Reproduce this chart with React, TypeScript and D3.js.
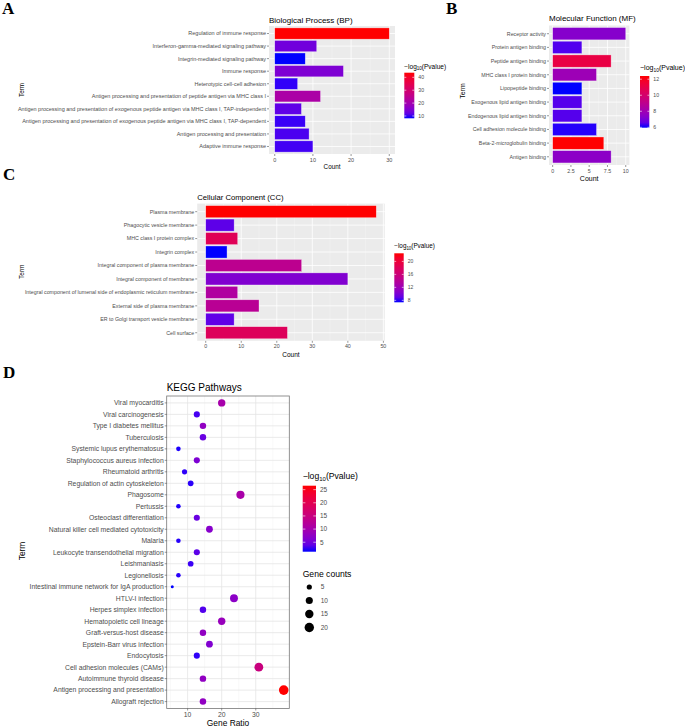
import React from "react";
import * as d3 from "d3";

const SANS = "'Liberation Sans', Arial, Helvetica, sans-serif";
const SERIF = "'Liberation Serif', 'Times New Roman', serif";

// A - Biological Process (top to bottom as drawn)
const bpTerms = [
  "Regulation of immune response",
  "Interferon-gamma-mediated signaling pathway",
  "Integrin-mediated signaling pathway",
  "Immune response",
  "Heterotypic cell-cell adhesion",
  "Antigen processing and presentation of peptide antigen via MHC class I",
  "Antigen processing and presentation of exogenous peptide antigen via MHC class I, TAP-independent",
  "Antigen processing and presentation of exogenous peptide antigen via MHC class I, TAP-dependent",
  "Antigen processing and presentation",
  "Adaptive immune response",
];
const bpCounts = [30, 11, 8, 18, 6, 12, 7, 8, 9, 10];
const bpLogP = [43.6, 13.2, 8.2, 14.6, 9.1, 21.3, 11.7, 9.4, 10.3, 9.8];
const bpTicks = [0, 10, 20, 30];
const bpColorTicks = [10, 20, 30, 40];

// B - Molecular Function
const mfTerms = [
  "Receptor activity",
  "Protein antigen binding",
  "Peptide antigen binding",
  "MHC class I protein binding",
  "Lipopeptide binding",
  "Exogenous lipid antigen binding",
  "Endogenous lipid antigen binding",
  "Cell adhesion molecule binding",
  "Beta-2-microglobulin binding",
  "Antigen binding",
];
const mfCounts = [10, 4, 8, 6, 4, 4, 4, 6, 7, 8];
const mfLogP = [7.3, 6.4, 11.1, 7.9, 5.95, 6.45, 6.45, 6.05, 12.4, 7.45];
const mfTicks = [0, 2.5, 5, 7.5, 10];
const mfColorTicks = [6, 8, 10, 12];

// C - Cellular Component
const ccTerms = [
  "Plasma membrane",
  "Phagocytic vesicle membrane",
  "MHC class I protein complex",
  "Integrin complex",
  "Integral component of plasma membrane",
  "Integral component of membrane",
  "Integral component of lumenal side of endoplasmic reticulum membrane",
  "External side of plasma membrane",
  "ER to Golgi transport vesicle membrane",
  "Cell surface",
];
const ccCounts = [48, 8, 9, 6, 27, 40, 9, 15, 8, 23];
const ccLogP = [22.5, 8.8, 18.3, 7.4, 14.5, 10.3, 13.4, 14.2, 8.9, 18.0];
const ccTicks = [0, 10, 20, 30, 40, 50];
const ccColorTicks = [8, 12, 16, 20];

// D - KEGG pathways
const keggTerms = [
  "Viral myocarditis",
  "Viral carcinogenesis",
  "Type I diabetes mellitus",
  "Tuberculosis",
  "Systemic lupus erythematosus",
  "Staphylococcus aureus infection",
  "Rheumatoid arthritis",
  "Regulation of actin cytoskeleton",
  "Phagosome",
  "Pertussis",
  "Osteoclast differentiation",
  "Natural killer cell mediated cytotoxicity",
  "Malaria",
  "Leukocyte transendothelial migration",
  "Leishmaniasis",
  "Legionellosis",
  "Intestinal immune network for IgA production",
  "HTLV-I infection",
  "Herpes simplex infection",
  "Hematopoietic cell lineage",
  "Graft-versus-host disease",
  "Epstein-Barr virus infection",
  "Endocytosis",
  "Cell adhesion molecules (CAMs)",
  "Autoimmune thyroid disease",
  "Antigen processing and presentation",
  "Allograft rejection",
];
const keggRatio = [20.0, 12.7, 14.5, 14.5, 7.3, 12.7, 9.1, 10.9, 25.5, 7.3, 12.7, 16.4, 7.3, 12.7, 10.9, 7.3, 5.5, 23.6, 14.5, 20.0, 14.5, 16.4, 12.7, 30.9, 14.5, 38.2, 14.5];
const keggCounts = [11, 7, 8, 8, 4, 7, 5, 6, 14, 4, 7, 9, 4, 7, 6, 4, 3, 13, 8, 11, 8, 9, 7, 17, 8, 21, 8];
const keggLogP = [10.2, 2.7, 7.7, 4.4, 1.65, 5.9, 2.0, 1.9, 10.4, 1.7, 4.4, 6.7, 1.8, 3.7, 2.3, 1.85, 1.4, 7.2, 3.2, 8.4, 7.7, 6.2, 2.0, 15.2, 7.7, 26.5, 7.7];
const keggTicks = [10, 20, 30];
const keggMinor = [5, 15, 25, 35];
const keggColorTicks = [5, 10, 15, 20, 25];
const keggSizeBreaks = [5, 10, 15, 20];

const colorScale = (vals: number[]) =>
  d3.scaleLinear<string>()
    .domain(d3.extent(vals) as [number, number])
    .range(["#0000FF", "#FF0000"])
    .interpolate(d3.interpolateLab);

function LogTitle({ x, y, size }: { x: number; y: number; size: number }) {
  return (
    <text x={x} y={y} fontSize={size} fill="#000" fontFamily={SANS}>
      <tspan>−log</tspan>
      <tspan fontSize={size * 0.7} dy={size * 0.25}>10</tspan>
      <tspan dy={-size * 0.25}>(Pvalue)</tspan>
    </text>
  );
}

function ColorBar(props: {
  id: string; vals: number[]; ticks: number[];
  x: number; y: number; w: number; h: number; size: number; titleY: number; titleSize: number;
}) {
  const { id, vals, ticks, x, y, w, h, size, titleY, titleSize } = props;
  const col = colorScale(vals);
  const ext = d3.extent(vals) as [number, number];
  const yb = d3.scaleLinear().domain(ext).range([y + h, y]);
  const stops = d3.range(0, 1.0001, 0.1);
  return (
    <g>
      <defs>
        <linearGradient id={id} x1="0" y1="1" x2="0" y2="0">
          {stops.map((t) => (
            <stop key={t} offset={t} stopColor={col(ext[0] + t * (ext[1] - ext[0]))} />
          ))}
        </linearGradient>
      </defs>
      <LogTitle x={x} y={titleY} size={titleSize} />
      <rect x={x} y={y} width={w} height={h} fill={`url(#${id})`} />
      {ticks.map((t) => (
        <g key={t}>
          <line x1={x} x2={x + w * 0.2} y1={yb(t)} y2={yb(t)} stroke="#fff" strokeWidth={0.6} />
          <line x1={x + w * 0.8} x2={x + w} y1={yb(t)} y2={yb(t)} stroke="#fff" strokeWidth={0.6} />
          <text x={x + w + 4} y={yb(t)} dy="0.35em" fontSize={size} fill="#4d4d4d" fontFamily={SANS}>{t}</text>
        </g>
      ))}
    </g>
  );
}

function BarPanel(props: {
  id: string; title: string; terms: string[]; counts: number[]; logp: number[];
  ticks: number[]; colorTicks: number[]; xMax: number;
  x0: number; x1: number; y0: number; y1: number;
  labelSize: number; titleSize: number; axisTitleSize: number;
  titleY: number; tickY: number; countY: number; termX: number; termY: number;
  leg: { x: number; y: number; w: number; h: number; titleY: number; titleSize: number; size: number };
}) {
  const p = props;
  const pad = p.xMax * 0.05;
  const x = d3.scaleLinear().domain([-pad, p.xMax + pad]).range([p.x0, p.x1]);
  const y = d3.scaleBand().domain(p.terms).range([p.y0, p.y1]).paddingInner(0.1).paddingOuter(0.15);
  const col = colorScale(p.logp);
  const minors = p.ticks.slice(1).map((t, i) => (t + p.ticks[i]) / 2);
  return (
    <g fontFamily={SANS}>
      <text x={p.x0} y={p.titleY} fontSize={p.titleSize} fill="#000">{p.title}</text>
      <rect x={p.x0} y={p.y0} width={p.x1 - p.x0} height={p.y1 - p.y0} fill="#EBEBEB" />
      {minors.map((t) => (
        <line key={"m" + t} x1={x(t)} x2={x(t)} y1={p.y0} y2={p.y1} stroke="#fff" strokeWidth={0.4} opacity={0.7} />
      ))}
      {p.ticks.map((t) => (
        <line key={"g" + t} x1={x(t)} x2={x(t)} y1={p.y0} y2={p.y1} stroke="#fff" strokeWidth={0.8} />
      ))}
      {p.terms.map((t) => (
        <line key={"h" + t} x1={p.x0} x2={p.x1} y1={y(t)! + y.bandwidth() / 2} y2={y(t)! + y.bandwidth() / 2} stroke="#fff" strokeWidth={0.8} />
      ))}
      {p.terms.map((t, i) => (
        <rect key={"b" + t} x={x(0)} y={y(t)!} width={x(p.counts[i]) - x(0)} height={y.bandwidth()}
          fill={col(p.logp[i])} stroke="#ffffff" strokeOpacity={0.55} strokeWidth={0.6} />
      ))}
      {p.terms.map((t) => (
        <g key={"l" + t}>
          <line x1={p.x0 - 2} x2={p.x0} y1={y(t)! + y.bandwidth() / 2} y2={y(t)! + y.bandwidth() / 2} stroke="#333" strokeWidth={0.5} />
          <text x={p.x0 - 3} y={y(t)! + y.bandwidth() / 2} dy="0.35em" textAnchor="end" fontSize={p.labelSize} fill="#4d4d4d">{t}</text>
        </g>
      ))}
      {p.ticks.map((t) => (
        <g key={"t" + t}>
          <line x1={x(t)} x2={x(t)} y1={p.y1} y2={p.y1 + 2} stroke="#333" strokeWidth={0.5} />
          <text x={x(t)} y={p.tickY} textAnchor="middle" fontSize={p.labelSize} fill="#4d4d4d">{t}</text>
        </g>
      ))}
      <text x={(p.x0 + p.x1) / 2} y={p.countY} textAnchor="middle" fontSize={p.axisTitleSize} fill="#000">Count</text>
      <text transform={`translate(${p.termX},${p.termY}) rotate(-90)`} textAnchor="middle" dy="0.35em" fontSize={p.axisTitleSize} fill="#000">Term</text>
      <ColorBar id={p.id} vals={p.logp} ticks={p.colorTicks} x={p.leg.x} y={p.leg.y} w={p.leg.w} h={p.leg.h}
        size={p.leg.size} titleY={p.leg.titleY} titleSize={p.leg.titleSize} />
    </g>
  );
}

function KeggPanel() {
  const x0 = 166.7, x1 = 289.3, y0 = 396, y1 = 708.5;
  const ext = d3.extent(keggRatio) as [number, number];
  const pad = (ext[1] - ext[0]) * 0.05;
  const x = d3.scaleLinear().domain([ext[0] - pad, ext[1] + pad]).range([x0, x1]);
  const y = d3.scalePoint().domain(keggTerms).range([y0, y1]).padding(0.6);
  const col = colorScale(keggLogP);
  const cExt = d3.extent(keggCounts) as [number, number];
  const norm = d3.scaleLinear().domain(cExt).range([0, 1]);
  const rad = d3.scaleLinear().domain([0, 1]).range([1.5, 4.8]);
  const r = (v: number) => rad(Math.sqrt(Math.max(0, norm(v))));
  return (
    <g fontFamily={SANS}>
      <text x={x0} y={391} fontSize={10} fill="#000">KEGG Pathways</text>
      <rect x={x0} y={y0} width={x1 - x0} height={y1 - y0} fill="#fff" />
      {keggMinor.map((t) => (
        <line key={"m" + t} x1={x(t)} x2={x(t)} y1={y0} y2={y1} stroke="#F2F2F2" strokeWidth={0.5} />
      ))}
      {keggTicks.map((t) => (
        <line key={"g" + t} x1={x(t)} x2={x(t)} y1={y0} y2={y1} stroke="#E5E5E5" strokeWidth={0.8} />
      ))}
      {keggTerms.map((t) => (
        <line key={"h" + t} x1={x0} x2={x1} y1={y(t)!} y2={y(t)!} stroke="#E5E5E5" strokeWidth={0.8} />
      ))}
      {keggTerms.map((t, i) => (
        <circle key={"c" + t} cx={x(keggRatio[i])} cy={y(t)!} r={r(keggCounts[i])} fill={col(keggLogP[i])} />
      ))}
      <rect x={x0} y={y0} width={x1 - x0} height={y1 - y0} fill="none" stroke="#777" strokeWidth={0.8} />
      {keggTerms.map((t) => (
        <g key={"l" + t}>
          <line x1={x0 - 2} x2={x0} y1={y(t)!} y2={y(t)!} stroke="#333" strokeWidth={0.5} />
          <text x={x0 - 3} y={y(t)!} dy="0.35em" textAnchor="end" fontSize={6.8} fill="#4d4d4d">{t}</text>
        </g>
      ))}
      {keggTicks.map((t) => (
        <g key={"t" + t}>
          <line x1={x(t)} x2={x(t)} y1={y1} y2={y1 + 2} stroke="#333" strokeWidth={0.5} />
          <text x={x(t)} y={716.5} textAnchor="middle" fontSize={6.8} fill="#4d4d4d">{t}</text>
        </g>
      ))}
      <text x={(x0 + x1) / 2} y={726.3} textAnchor="middle" fontSize={8.4} fill="#000">Gene Ratio</text>
      <text transform="translate(21.7,551) rotate(-90)" textAnchor="middle" dy="0.35em" fontSize={8.4} fill="#000">Term</text>
      <ColorBar id="gradD" vals={keggLogP} ticks={keggColorTicks} x={302.7} y={485.7} w={13.3} h={66}
        size={6.5} titleY={479} titleSize={8.6} />
      <text x={302.7} y={576.5} fontSize={8.6} fill="#000">Gene counts</text>
      {keggSizeBreaks.map((s, i) => (
        <g key={"s" + s}>
          <circle cx={309.3} cy={587 + i * 13.5} r={r(s)} fill="#000" />
          <text x={320.7} y={587 + i * 13.5} dy="0.35em" fontSize={6.5} fill="#4d4d4d">{s}</text>
        </g>
      ))}
    </g>
  );
}

export default function App() {
  return (
    <svg width={685} height={728} style={{ position: "absolute", left: 0, top: 0, background: "#fff" }}>
      <rect width={685} height={728} fill="#fff" />
      <text x={2} y={14} fontFamily={SERIF} fontWeight="bold" fontSize={17}>A</text>
      <text x={446} y={14} fontFamily={SERIF} fontWeight="bold" fontSize={17}>B</text>
      <text x={3} y={180} fontFamily={SERIF} fontWeight="bold" fontSize={17}>C</text>
      <text x={3} y={378} fontFamily={SERIF} fontWeight="bold" fontSize={17}>D</text>

      <BarPanel id="gradA" title="Biological Process (BP)" terms={bpTerms} counts={bpCounts} logp={bpLogP}
        ticks={bpTicks} colorTicks={bpColorTicks} xMax={30}
        x0={269} x1={395} y0={26} y1={154}
        labelSize={5.5} titleSize={8} axisTitleSize={6.3}
        titleY={23} tickY={162} countY={169} termX={21.7} termY={90}
        leg={{ x: 404.3, y: 72.7, w: 10, h: 45.6, titleY: 68.5, titleSize: 6.5, size: 5.2 }} />

      <BarPanel id="gradB" title="Molecular Function (MF)" terms={mfTerms} counts={mfCounts} logp={mfLogP}
        ticks={mfTicks} colorTicks={mfColorTicks} xMax={10}
        x0={549} x1={629.4} y0={25.5} y1={165}
        labelSize={5.3} titleSize={8} axisTitleSize={7}
        titleY={21} tickY={172.5} countY={180.5} termX={462.7} termY={91}
        leg={{ x: 640, y: 76, w: 9.3, h: 51.7, titleY: 70, titleSize: 7, size: 5.2 }} />

      <BarPanel id="gradC" title="Cellular Component (CC)" terms={ccTerms} counts={ccCounts} logp={ccLogP}
        ticks={ccTicks} colorTicks={ccColorTicks} xMax={48}
        x0={197.2} x1={384.8} y0={203.6} y1={340.8}
        labelSize={5.3} titleSize={7.7} axisTitleSize={6.5}
        titleY={199.5} tickY={348.3} countY={356.5} termX={21.7} termY={271.7}
        leg={{ x: 394.3, y: 253.3, w: 9.4, h: 49, titleY: 248, titleSize: 6.3, size: 5 }} />

      <KeggPanel />
    </svg>
  );
}
